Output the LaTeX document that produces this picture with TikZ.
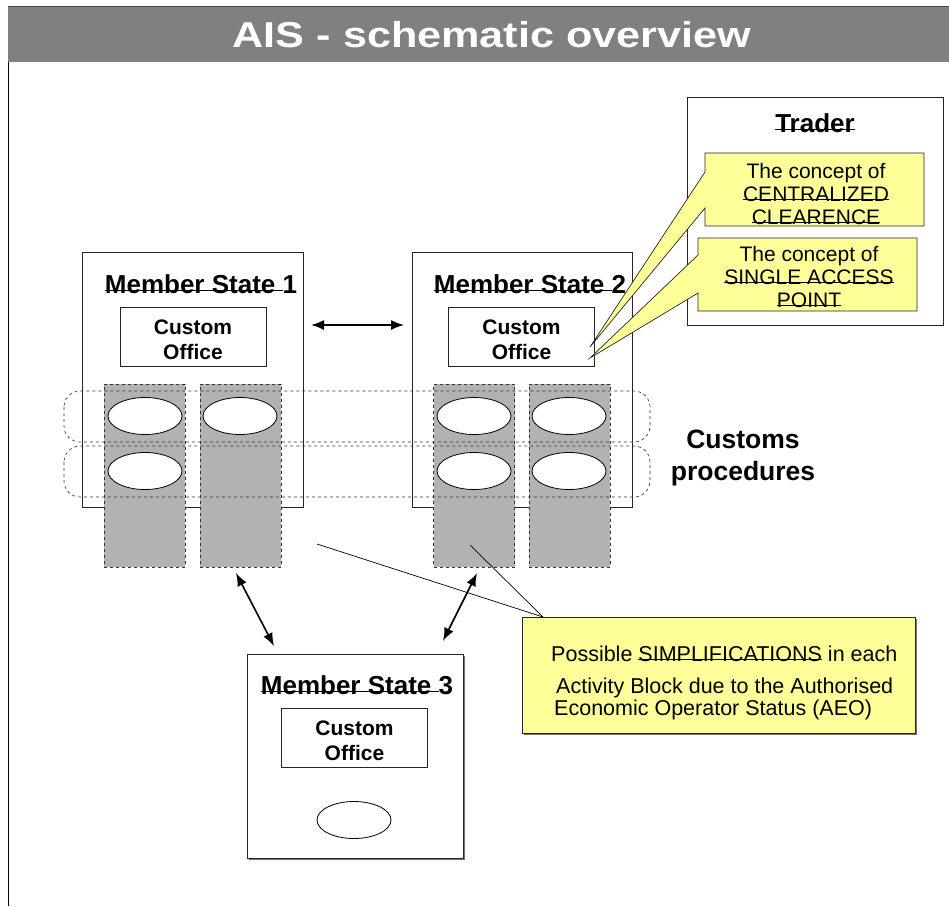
\documentclass[tikz,border=0pt]{standalone}
\usepackage{fontspec}
\setmainfont{Liberation Sans}
\usetikzlibrary{arrows.meta,shapes.geometric}
\definecolor{amarillo}{HTML}{FFFF99}
\definecolor{gris}{HTML}{B2B2B2}
\definecolor{banda}{HTML}{808080}
\newsavebox\cajatach
\newcommand\tachado[1]{\sbox\cajatach{#1}\rlap{\rule[0.12ex]{\wd\cajatach}{1pt}}\usebox{\cajatach}}
\begin{document}
\begin{tikzpicture}[x=1pt,y=-1pt,
  estado/.style={draw=black!85,fill=white,line width=1pt,inner sep=0pt},
  oficina/.style={draw=black!85,fill=white,line width=.8pt,minimum width=146pt,
    minimum height=59pt,align=center,font=\fontsize{21}{25}\selectfont\bfseries},
  rotulo/.style={anchor=base,font=\fontsize{26}{30}\selectfont\bfseries},
  bloque/.style={draw=black!80,dashed,fill=gris,line width=.6pt,minimum width=81pt,
    minimum height=183pt,inner sep=0pt},
  fila/.style={draw=black!80,dashed,rounded corners=16pt,line width=.6pt},
  actividad/.style={ellipse,draw,fill=white,line width=.8pt,minimum width=74pt,
    minimum height=37pt,inner sep=0pt},
  globo/.style={draw=black!85,fill=amarillo,line width=.7pt},
  flecha/.style={{Latex[length=13pt,width=10pt]}-{Latex[length=13pt,width=10pt]},line width=1.6pt}]
\useasboundingbox (0,0) rectangle (949,906);
%
% cabecera
\fill[banda] (8,6) rectangle (949,62);
\draw[black!70] (8,6) -- (949,6);
\draw (8,62) -- (8,906);
\node[anchor=base,text=white,font=\fontsize{36}{40}\selectfont\bfseries] (titulo) at (492,47)
  {\scalebox{1.2}[1]{AIS - schematic overview}};
%
% estados miembros
\node[estado,minimum width=221pt,minimum height=255pt] (ms1) at (192.5,379.5) {};
\node[estado,minimum width=220pt,minimum height=255pt] (ms2) at (522,379.5) {};
\fill[black!55] (249,656) rectangle (465,860);
\node[estado,minimum width=216pt,minimum height=204pt] (ms3) at (355,756) {};
\node[rotulo] (t1) at (201,293) {\tachado{Member State }1};
\node[rotulo] (t2) at (530,293) {\tachado{Member State }2};
\node[rotulo] (t3) at (357,694) {\tachado{Member State }3};
\node[oficina] (co1) at (193,336.5) {\rule{0pt}{22pt}Custom\\Office};
\node[oficina] (co2) at (521.5,336.5) {\rule{0pt}{22pt}Custom\\Office};
\node[oficina] (co3) at (354.5,737.5) {\rule{0pt}{22pt}Custom\\Office};
%
% bloques de actividad
\foreach \cx/\n in {144.5/1,240.5/2,474/3,569.5/4}
\node[bloque] (b\n) at (\cx,475.5) {};
\foreach \fy in {391,446}
\draw[fila] (64,\fy) rectangle (650,\fy+51);
\foreach \ex/\ey/\n in {145/416/a,240/416/b,145/471/c,474/416/d,569/416/e,474/471/f,569/471/g,354/820/h}
\node[actividad] (e\n) at (\ex,\ey) {};
\node[align=center,font=\fontsize{26.5}{32}\selectfont\bfseries] (proc) at (743,458)
  {Customs\\procedures};
%
% flechas
\coordinate (a1) at (311,325); \coordinate (a2) at (404,325);
\coordinate (a3) at (236,573); \coordinate (a4) at (274,646);
\coordinate (a5) at (477,573); \coordinate (a6) at (443,641);
\draw[flecha] (a1) -- (a2);
\draw[flecha] (a3) -- (a4);
\draw[flecha] (a5) -- (a6);
%
% trader
\node[estado,minimum width=256pt,minimum height=228pt] (trader) at (815,211) {};
\node[rotulo] (tt) at (815,132) {\tachado{Trader}};
\draw[globo] (705,153) -- (924,153) -- (924,226) -- (705,226) -- (705,208)
  -- (590,347) -- (705,172) -- cycle;
\draw[globo] (698,238) -- (917,238) -- (917,311) -- (698,311) -- (698,293)
  -- (590,358) -- (698,255) -- cycle;
\node[align=center,font=\fontsize{21}{23}\selectfont] (cc) at (816,194)
  {The concept of\\\tachado{CENTRALIZED}\\\tachado{CLEARENCE}};
\node[align=center,font=\fontsize{21}{23}\selectfont] (sap) at (809,277)
  {The concept of\\\tachado{SINGLE ACCESS}\\\tachado{POINT}};
%
% simplificaciones
\fill[black!55] (524,619) rectangle (917,735);
\node[globo,minimum width=393pt,minimum height=116pt] (aeo) at (718.5,675) {};
\node[anchor=north west,inner sep=0pt,align=left,font=\fontsize{21.5}{22.5}\selectfont] (aeot) at (551,646)
  {Possible \tachado{SIMPLIFICATIONS} in each\\[9pt]
   \hspace*{5pt}Activity Block due to the Authorised\\
   \hspace*{3pt}Economic Operator Status (AEO)};
\coordinate (p1) at (317,544); \coordinate (p2) at (470,545); \coordinate (p0) at (543,617);
\draw[line width=.7pt] (p1) -- (p0);
\draw[line width=.7pt] (p2) -- (p0);
\end{tikzpicture}
\end{document}
